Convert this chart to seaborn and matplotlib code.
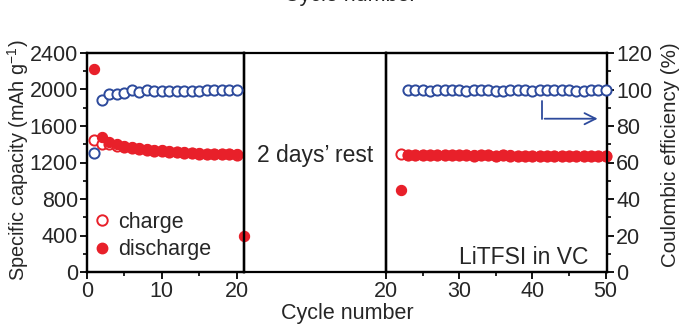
import numpy as np
import pandas as pd
import matplotlib
matplotlib.use("Agg")
import matplotlib.pyplot as plt
from matplotlib.lines import Line2D
from matplotlib.ticker import MultipleLocator
import seaborn as sns

sns.set_style("white")
plt.rcParams['font.family'] = ['Liberation Sans', 'DejaVu Sans']
plt.rcParams['mathtext.fontset'] = 'custom'
plt.rcParams['mathtext.rm'] = 'Liberation Sans'

RED = '#e8202a'
BLUE = '#2d4a9c'
FS = 15.5

# ---------------- data ----------------
cycles_a = list(range(1, 21))
charge_a = [1446, 1400, 1400, 1385, 1370, 1355, 1345, 1335, 1330, 1322,
            1315, 1310, 1305, 1300, 1298, 1295, 1292, 1290, 1288, 1286]
discharge_a = [2225, 1480, 1430, 1400, 1385, 1370, 1360, 1348, 1340, 1332,
               1325, 1318, 1312, 1306, 1302, 1298, 1295, 1292, 1290, 1288]
ce_a = [65.0, 94.5, 97.5, 97.8, 98.2, 99.5, 98.8, 99.5, 99.3, 99.2,
        99.3, 99.2, 99.3, 99.4, 99.4, 99.5, 99.5, 99.6, 99.7, 99.9]

cycle_rest = [21]
discharge_rest = [400]

cycles_b = list(range(22, 51))
charge_b = [1290, 1280, 1279, 1280, 1278, 1277, 1279, 1281, 1280, 1278,
            1276, 1279, 1278, 1275, 1277, 1276, 1274, 1275, 1273, 1274,
            1272, 1271, 1273, 1270, 1269, 1271, 1268, 1267, 1269]
discharge_b = [900, 1282, 1280, 1281, 1279, 1278, 1280, 1282, 1281, 1279,
               1277, 1280, 1279, 1276, 1278, 1277, 1275, 1276, 1274, 1275,
               1273, 1272, 1274, 1271, 1270, 1272, 1269, 1268, 1270]
cycles_ce_b = list(range(23, 51))
ce_b = [99.8, 99.9, 99.5, 99.2, 99.6, 99.9, 99.9, 99.5, 99.0, 99.8,
        100.0, 99.8, 99.2, 99.4, 100.0, 99.9, 99.5, 99.3, 99.8, 99.6,
        99.5, 99.7, 99.8, 99.4, 99.3, 99.8, 100.0, 99.6]

left_ticks = [0, 400, 800, 1200, 1600, 2000, 2400]
right_ticks = [0, 20, 40, 60, 80, 100, 120]

# ---------------- layout ----------------
W, H = 688, 328
fig = plt.figure(figsize=(W / 100, H / 100), dpi=100)

def box(x0, x1, ytop=53, ybot=272):
    return [x0 / W, 1 - ybot / H, (x1 - x0) / W, (ybot - ytop) / H]

axA = fig.add_axes(box(87, 244))
axM = fig.add_axes(box(244, 386))
axB = fig.add_axes(box(386, 607))
axA2 = axA.twinx()
axB2 = axB.twinx()

for ax in (axA, axM, axB, axA2, axB2):
    ax.set_facecolor('none')
    for s in ax.spines.values():
        s.set_color('black')
        s.set_linewidth(1.6)

ms = 54
lw = 1.4

def plot_panel(ax, ax2, cyc, ch, dis, cyc_ce, ce):
    dfc = pd.DataFrame({'cycle': cyc, 'cap': ch})
    dfd = pd.DataFrame({'cycle': cyc, 'cap': dis})
    dfe = pd.DataFrame({'cycle': cyc_ce, 'ce': ce})
    sns.scatterplot(data=dfc, x='cycle', y='cap', ax=ax, marker='o', s=ms,
                    facecolors='white', edgecolor=RED, linewidth=lw, zorder=3, clip_on=False)
    sns.scatterplot(data=dfd, x='cycle', y='cap', ax=ax, marker='o', s=ms,
                    color=RED, edgecolor=RED, linewidth=0.8, zorder=4, clip_on=False)
    sns.scatterplot(data=dfe, x='cycle', y='ce', ax=ax2, marker='o', s=ms,
                    facecolors='white', edgecolor=BLUE, linewidth=lw, zorder=3, clip_on=False)

plot_panel(axA, axA2, cycles_a, charge_a, discharge_a, cycles_a, ce_a)
sns.scatterplot(x=cycle_rest, y=discharge_rest, ax=axA, marker='o', s=ms,
                color=RED, edgecolor=RED, linewidth=0.8, zorder=4, clip_on=False)
plot_panel(axB, axB2, cycles_b, charge_b, discharge_b, cycles_ce_b, ce_b)

for ax in (axA, axB):
    ax.set_ylim(0, 2400)
    ax.set_xlabel('')
    ax.set_ylabel('')
for ax in (axA2, axB2):
    ax.set_ylim(0, 120)
    ax.set_ylabel('')

axA.set_xlim(0, 21)
axA2.set_xlim(0, 21)
axB.set_xlim(20, 50.2)
axB2.set_xlim(20, 50.2)

# ticks
tick_kw = dict(direction='out', length=5, width=1.3, color='black', labelsize=FS, pad=1.5)
minor_kw = dict(direction='out', length=3, width=1.2, color='black')

axA.set_yticks(left_ticks)
axA.yaxis.set_minor_locator(MultipleLocator(200))
axA.set_xticks([0, 10, 20])
axA.xaxis.set_minor_locator(MultipleLocator(5))
axA.tick_params(axis='both', which='major', left=True, bottom=True, right=False, top=False, **tick_kw)
axA.tick_params(axis='both', which='minor', left=True, bottom=True, right=False, top=False, **minor_kw)
axA2.set_yticks([])
axA2.tick_params(right=False, labelright=False)

axB.set_yticks([])
axB.set_xticks([20, 30, 40, 50])
axB.xaxis.set_minor_locator(MultipleLocator(5))
axB.tick_params(axis='x', which='major', bottom=True, **tick_kw)
axB.tick_params(axis='x', which='minor', bottom=True, **minor_kw)
axB.tick_params(axis='y', left=False, labelleft=False)
axB2.set_yticks(right_ticks)
axB2.yaxis.set_minor_locator(MultipleLocator(10))
axB2.tick_params(axis='y', which='major', right=True, **tick_kw)
axB2.tick_params(axis='y', which='minor', right=True, **minor_kw)

axM.set_xticks([])
axM.set_yticks([])
axM.set_xlim(0, 1)
axM.set_ylim(0, 1)
axM.text(0.5, 0.53, '2 days\u2019 rest', ha='center', va='center', fontsize=FS + 1,
         transform=axM.transAxes)

axB.text(0.914, 0.015, 'LiTFSI in VC', ha='right', va='bottom', fontsize=FS + 1,
         transform=axB.transAxes)

# arrow pointing to right axis
axB2.annotate('', xy=(49.3, 84), xytext=(41.3, 84),
              arrowprops=dict(arrowstyle='->', color=BLUE, lw=1.3, mutation_scale=20))
axB2.plot([41.3, 41.3], [93.5, 84], color=BLUE, lw=1.3)

# legend
handles = [Line2D([], [], marker='o', ls='none', markersize=7.5, markerfacecolor='white',
                  markeredgecolor=RED, markeredgewidth=lw),
           Line2D([], [], marker='o', ls='none', markersize=7.5, markerfacecolor=RED,
                  markeredgecolor=RED)]
axA.legend(handles, ['charge', 'discharge'], loc='lower left', bbox_to_anchor=(-0.08, -0.015),
           frameon=False, fontsize=FS, handletextpad=0.15, labelspacing=0.3,
           handlelength=1.2, borderpad=0.2)

# axis labels
fig.text(18 / W, 1 - 160 / H, 'Specific capacity (mAh g$^{-1}$)', rotation=90,
         ha='center', va='center', fontsize=FS - 1.2)
fig.text(670 / W, 1 - 155 / H, 'Coulombic efficiency (%)', rotation=90,
         ha='center', va='center', fontsize=FS - 0.7)
fig.text(347 / W, 1 - 314 / H, 'Cycle number', ha='center', va='center', fontsize=FS)
fig.text(350 / W, 1 - 1 / H, 'Cycle number', ha='center', va='baseline', fontsize=FS)

fig.savefig('out.png', dpi=100)
